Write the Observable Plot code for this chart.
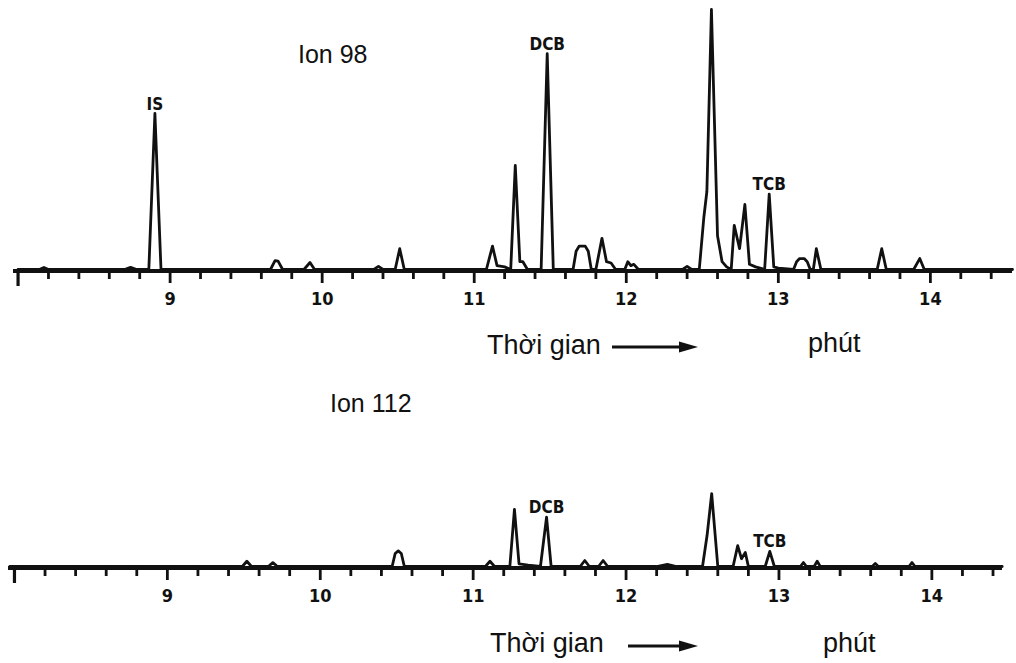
<!DOCTYPE html>
<html>
<head>
<meta charset="utf-8">
<script src="https://cdn.jsdelivr.net/npm/d3@7"></script>
<script src="https://cdn.jsdelivr.net/npm/@observablehq/plot@0.6"></script>
<style>
  html, body { margin: 0; padding: 0; background: #fff; }
  #wrap { position: relative; width: 1016px; height: 663px; overflow: hidden;
          font-family: "Liberation Sans", Arial, sans-serif; color: #111; }
  .abs { position: absolute; line-height: 1; white-space: nowrap; }
  .ion { font-size: 25px; }
  .xl { font-size: 27px; }
  svg.plot { position: absolute; left: 0; overflow: visible; }
</style>
</head>
<body>
<div id="wrap"></div>
<script>
// ---------- data ----------
// Ion 98 trace: retention time (min) and relative abundance (% of largest peak)
const topTime = [8.00,8.14,8.17,8.20,8.70,8.74,8.78,8.86,8.90,8.94,9.66,9.69,9.71,9.74,9.88,9.92,9.95,10.34,10.37,10.40,10.48,10.51,10.54,11.08,11.12,11.15,11.20,11.24,11.27,11.30,11.32,11.35,11.44,11.48,11.52,11.65,11.67,11.69,11.73,11.75,11.77,11.80,11.84,11.87,11.90,11.93,11.99,12.01,12.03,12.05,12.08,12.37,12.40,12.43,12.48,12.51,12.53,12.56,12.60,12.63,12.66,12.69,12.71,12.745,12.78,12.81,12.85,12.91,12.94,12.97,13.00,13.10,13.12,13.14,13.17,13.19,13.21,13.23,13.25,13.28,13.65,13.68,13.71,13.89,13.93,13.96,14.54];
const topAbundance = [0,0,0.8,0,0,0.8,0,0,60,0,0,3.4,3.2,0,0,2.7,0,0,1.2,0,0,8,0,0,9,1.5,1,0,40,3,3,0,0,83,0,0,7,9,9,7,0,0,12,3,2.5,0,0,3,1.5,2,0,0,1.2,0,0,20,30,100,13,3,1,0,17,8,25,2,1,0,29,1,0.5,0,3,4.2,4.2,3,0,0,8,0,0,8,0,0,4.2,0,0];

// Ion 112 trace
const bottomTime = [7.97,9.49,9.52,9.55,9.66,9.69,9.72,10.47,10.49,10.51,10.53,10.55,11.08,11.11,11.14,11.24,11.27,11.30,11.36,11.44,11.48,11.51,11.70,11.73,11.76,11.82,11.85,11.88,12.20,12.27,12.33,12.50,12.53,12.56,12.60,12.70,12.73,12.755,12.78,12.80,12.91,12.94,12.97,13.14,13.16,13.18,13.23,13.25,13.27,13.61,13.63,13.65,13.85,13.87,13.89,14.46];
const bottomAbundance = [0,0,2,0,0,1.5,0,0,5,6,5,0,0,2,0,0,22,1,0.5,0,19,0,0,2.3,0,0,2.3,0,0,0.8,0,0,12,28,0,0,8,3,5.4,0,0,5.8,0,0,1.5,0,0,2,0,0,1.2,0,0,1.5,0,0];

// peak annotations
const topPeakNames = ["IS", "DCB", "TCB"];
const topPeakTime = [8.90, 11.48, 12.94];
const topPeakValue = [60, 83, 29];
const bottomPeakNames = ["DCB", "TCB"];
const bottomPeakTime = [11.48, 12.94];
const bottomPeakValue = [19, 5.8];

// axis ticks (minutes)
const majorTicks = [9, 10, 11, 12, 13, 14];
const minorTicks = [8.2,8.4,8.6,8.8,9.2,9.4,9.6,9.8,10.2,10.4,10.6,10.8,11.2,11.4,11.6,11.8,12.2,12.4,12.6,12.8,13.2,13.4,13.6,13.8,14.2,14.4];
const endTicks = [8];

// texts
const panelTitles = ["Ion 98", "Ion 112"];
const axisTitle = "Thời gian";
const axisUnit = "phút";

// ---------- drawing ----------
const ink = "#111";
const condensed = '"DejaVu Sans Condensed", "Liberation Sans Narrow", "DejaVu Sans", sans-serif';

function rows(t, v) { return t.map((d, i) => ({t: d, v: v[i]})); }

function panel({time, value, names, ptime, pvalue, xDomain, yDomain, height, ml, mr, mt, mb}) {
  const svg = Plot.plot({
    width: 1016,
    height,
    marginLeft: ml, marginRight: mr, marginTop: mt, marginBottom: mb,
    style: {fontFamily: condensed, fontWeight: "bold", fontSize: "17px", color: ink, background: "transparent", overflow: "visible"},
    x: {domain: xDomain, axis: null},
    y: {domain: yDomain, axis: null},
    marks: [
      Plot.ruleY([0], {stroke: ink, strokeWidth: 4, dy: 1.5}),
      Plot.line(rows(time, value), {x: "t", y: "v", stroke: ink, strokeWidth: 2.8, strokeLinejoin: "round", strokeLinecap: "round"}),
      Plot.text(names.map((n, i) => ({n, t: ptime[i], v: pvalue[i]})), {
        x: "t", y: "v", text: "n", dy: -4, lineAnchor: "bottom",
        fontSize: 17, fontWeight: "bold", fontFamily: condensed, fill: ink
      }),
      Plot.axisX({ticks: minorTicks, tickSize: 10, strokeWidth: 2.8, tickFormat: () => "", label: null}),
      Plot.axisX({ticks: endTicks, tickSize: 17, strokeWidth: 3.2, tickFormat: () => "", label: null}),
      Plot.axisX({ticks: majorTicks, tickSize: 14, tickPadding: 9, strokeWidth: 2.8, label: null,
                  fontSize: 18, fontWeight: "bold", fontFamily: condensed, tickFormat: d => String(d)})
    ]
  });
  svg.classList.add("plot");
  return svg;
}

const wrap = document.getElementById("wrap");

const topSvg = panel({
  time: topTime, value: topAbundance,
  names: topPeakNames, ptime: topPeakTime, pvalue: topPeakValue,
  xDomain: [7.97, 14.54],
  yDomain: [0, 100],
  height: 320, ml: 13, mr: 4, mt: 9, mb: 51
});
topSvg.style.top = "0px";
wrap.appendChild(topSvg);

const botSvg = panel({
  time: bottomTime, value: bottomAbundance,
  names: bottomPeakNames, ptime: bottomPeakTime, pvalue: bottomPeakValue,
  xDomain: [7.961, 14.462],
  yDomain: [0, 52.3],
  height: 190, ml: 8, mr: 14, mt: 0, mb: 54
});
botSvg.style.top = "430px";
wrap.appendChild(botSvg);

function addText(txt, cls, left, top) {
  const d = document.createElement("div");
  d.className = "abs " + cls;
  d.textContent = txt;
  d.style.left = left + "px";
  d.style.top = top + "px";
  wrap.appendChild(d);
}
function addArrow(left, top, w) {
  const ns = "http://www.w3.org/2000/svg";
  const s = document.createElementNS(ns, "svg");
  s.setAttribute("width", w); s.setAttribute("height", 14);
  s.setAttribute("class", "abs");
  s.style.left = left + "px"; s.style.top = top + "px";
  const l = document.createElementNS(ns, "line");
  l.setAttribute("x1", 0); l.setAttribute("x2", w - 16);
  l.setAttribute("y1", 7); l.setAttribute("y2", 7);
  l.setAttribute("stroke", ink); l.setAttribute("stroke-width", 3);
  const p = document.createElementNS(ns, "polygon");
  p.setAttribute("points", `${w - 19},1.5 ${w},7 ${w - 19},12.5`);
  p.setAttribute("fill", ink);
  s.appendChild(l); s.appendChild(p);
  wrap.appendChild(s);
}

addText(panelTitles[0], "ion", 298, 42);
addText(axisTitle, "xl", 487, 332);
addArrow(612, 340, 86);
addText(axisUnit, "xl", 808, 330);

addText(panelTitles[1], "ion", 330, 391);
addText(axisTitle, "xl", 490, 630);
addArrow(628, 639, 70);
addText(axisUnit, "xl", 823, 630);
</script>
</body>
</html>
